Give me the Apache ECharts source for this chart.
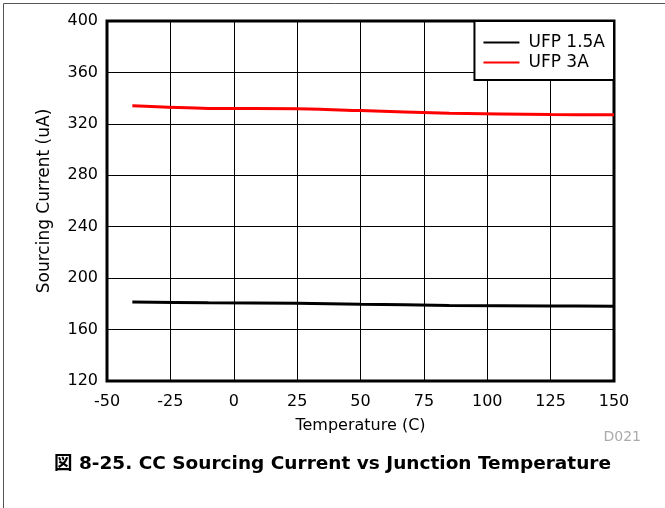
<!DOCTYPE html>
<html><head><meta charset="utf-8">
<script src="https://cdn.jsdelivr.net/npm/echarts@6/dist/echarts.min.js"></script>
<style>html,body{margin:0;padding:0;background:#fff}#c{width:665px;height:508px}</style>
</head><body><div id="c"></div>
<script>
const temps = [-40, -10, 25, 50, 85, 125, 150];
const ufp15 = [181.5, 180.8, 180.5, 179.7, 178.8, 178.3, 178.2];
const ufp3 = [334, 332, 331.8, 330.3, 328.3, 327.3, 327];
const seriesNames = ['UFP 1.5A', 'UFP 3A'];
const titleText = '図 8-25. CC Sourcing Current vs Junction Temperature';
const font = '"DejaVu Sans", "Noto Sans CJK JP", sans-serif';
const chart = echarts.init(document.getElementById('c'));
chart.setOption({
  animation: false,
  grid: {left: 107, right: 51, top: 21, bottom: 127, show: true, borderColor: '#000', borderWidth: 3},
  xAxis: {type: 'value', min: -50, max: 150, interval: 25,
    name: 'Temperature (C)', nameLocation: 'middle', nameGap: 37,
    nameTextStyle: {color: '#000', fontSize: 16, fontFamily: font},
    axisLine: {show: false}, axisTick: {show: false},
    axisLabel: {color: '#000', fontSize: 16, fontFamily: font, margin: 13},
    splitLine: {lineStyle: {color: '#000', width: 1}}},
  yAxis: {type: 'value', min: 120, max: 400, interval: 40,
    name: 'Sourcing Current (uA)', nameLocation: 'middle', nameGap: 54,
    nameTextStyle: {color: '#000', fontSize: 17, fontFamily: font},
    axisLine: {show: false}, axisTick: {show: false},
    axisLabel: {color: '#000', fontSize: 16, fontFamily: font, margin: 9},
    splitLine: {lineStyle: {color: '#000', width: 1}}},
  legend: {right: 51, top: 21, orient: 'vertical', backgroundColor: '#fff',
    borderColor: '#000', borderWidth: 2, borderRadius: 0, padding: [13, 9, 9, 9],
    itemGap: 3, itemWidth: 36, itemHeight: 10, icon: 'path://M0,4 L36,4 L36,6 L0,6 Z',
    textStyle: {color: '#000', fontSize: 17, fontFamily: font, padding: [0, 0, 0, 4]},
    data: seriesNames},
  series: [
    {name: seriesNames[0], type: 'line', data: temps.map((t, i) => [t, ufp15[i]]), showSymbol: false, smooth: 0.3,
     lineStyle: {color: '#000', width: 3}, itemStyle: {color: '#000'}},
    {name: seriesNames[1], type: 'line', data: temps.map((t, i) => [t, ufp3[i]]), showSymbol: false, smooth: 0.3,
     lineStyle: {color: '#ff0000', width: 3}, itemStyle: {color: '#ff0000'}}
  ],
  graphic: [
    {type: 'line', shape: {x1: 3.5, y1: 3.5, x2: 3.5, y2: 508}, style: {stroke: '#555', lineWidth: 1}},
    {type: 'line', shape: {x1: 3.5, y1: 3.5, x2: 665, y2: 3.5}, style: {stroke: '#555', lineWidth: 1}},
    {type: 'text', right: 24, top: 430, style: {text: 'D021', fill: '#aaa', font: '14px ' + font}},
    {type: 'text', left: 'center', top: 455, style: {text: titleText, fill: '#000', font: 'bold 18.5px ' + font}}
  ]
});
</script></body></html>
